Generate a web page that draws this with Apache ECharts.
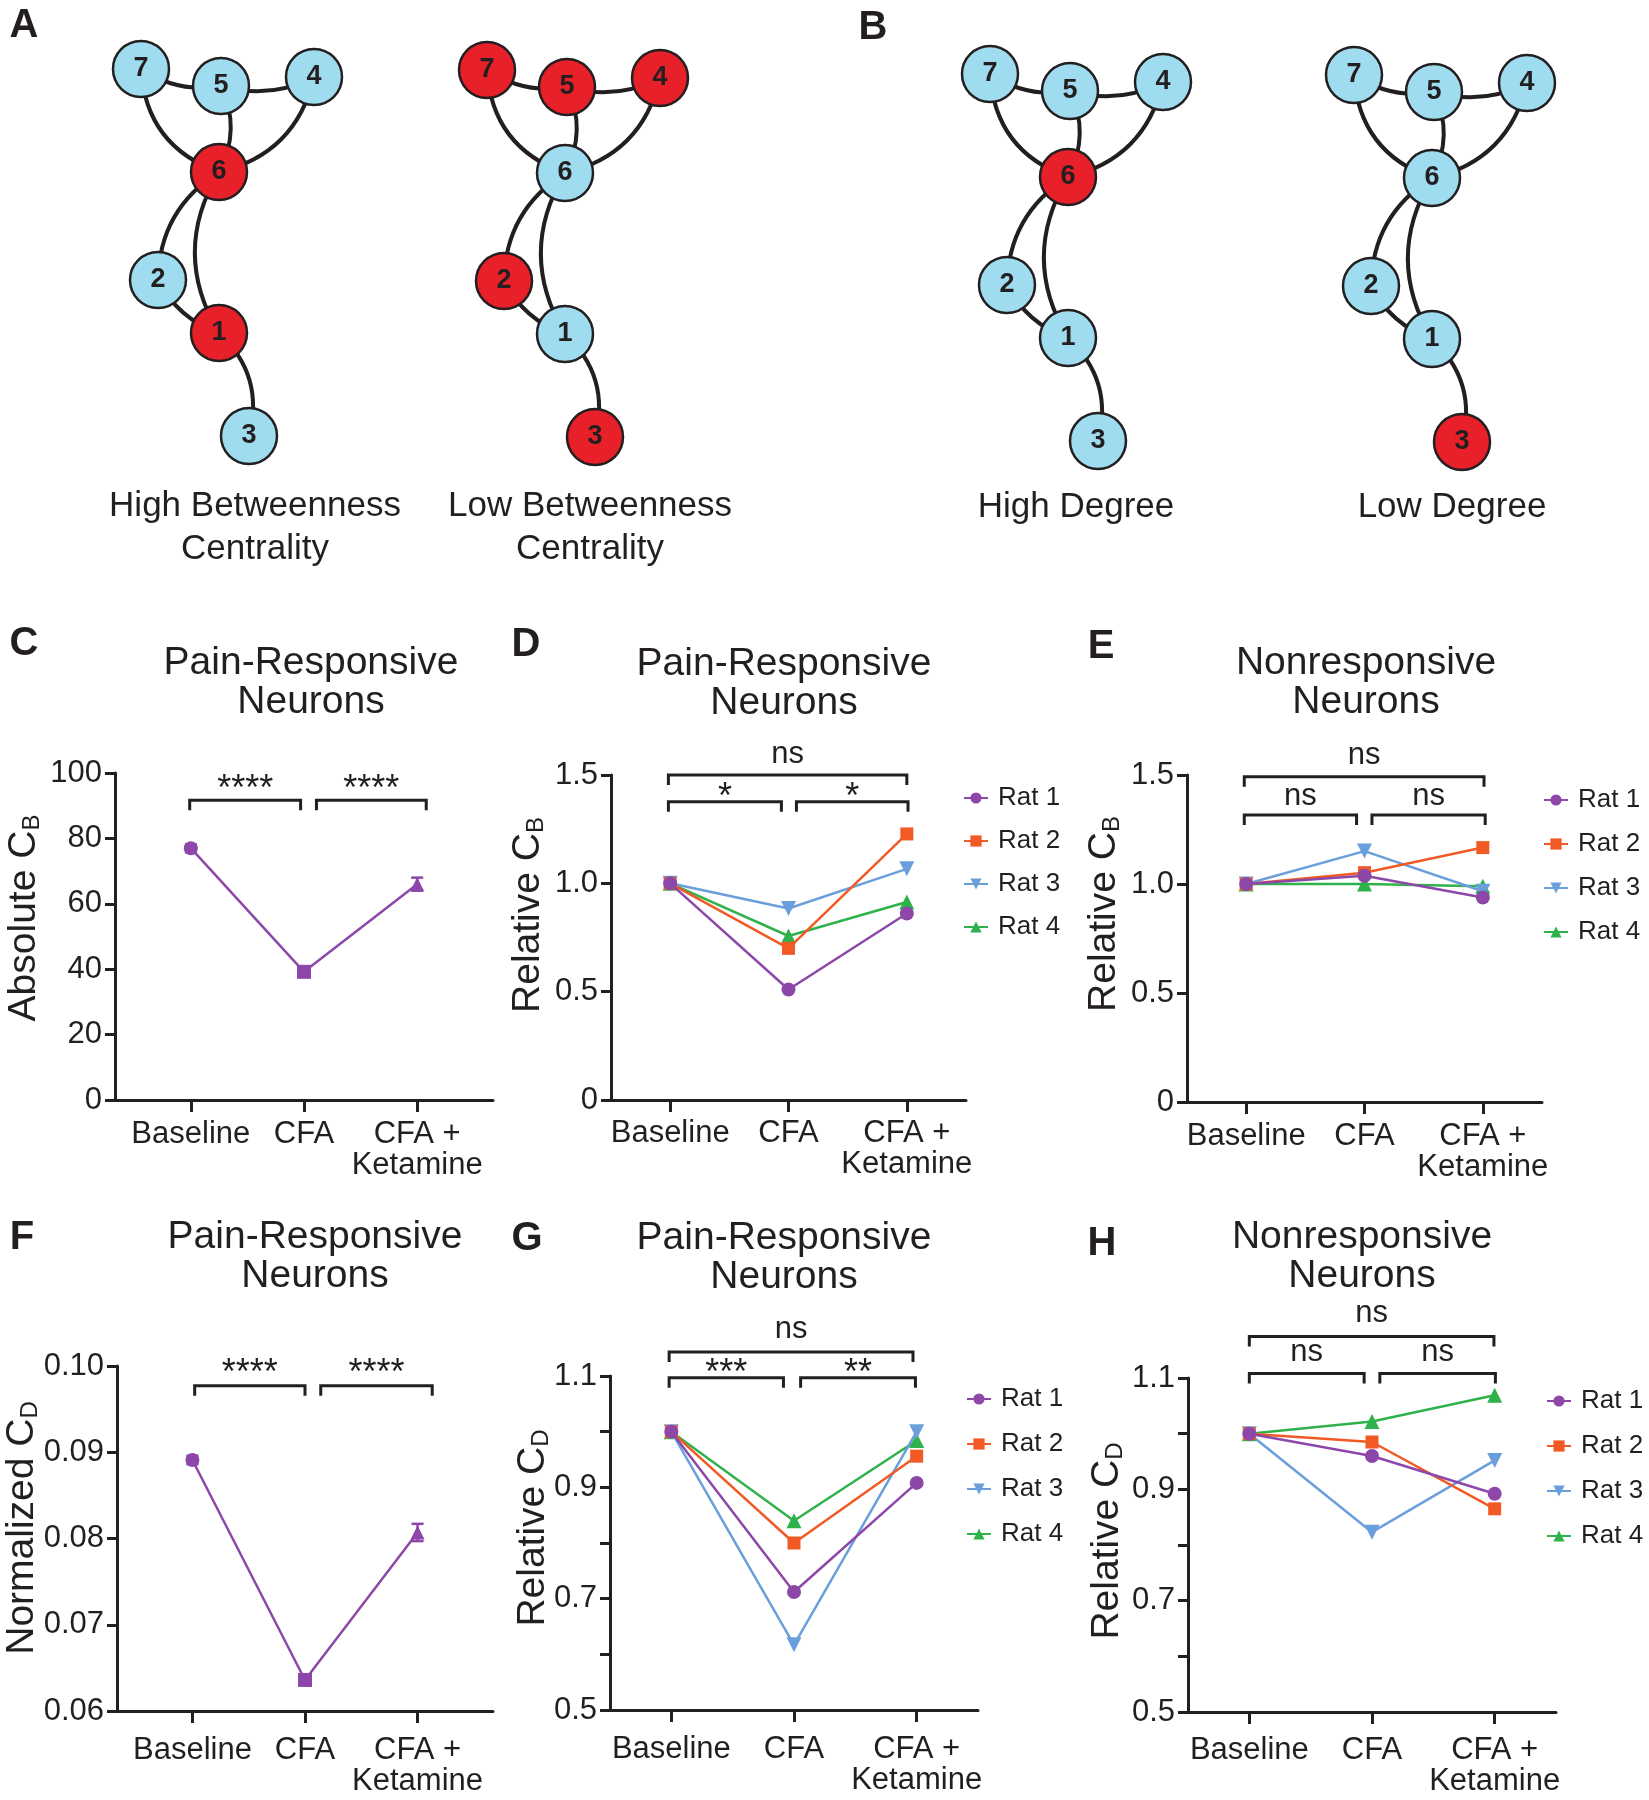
<!DOCTYPE html>
<html>
<head>
<meta charset="utf-8">
<title>Betweenness and degree centrality</title>
<script src="https://cdn.jsdelivr.net/npm/echarts@6.0.0/dist/echarts.min.js"></script>
<style>
  html, body { margin: 0; padding: 0; background: #ffffff; }
  #fig { width: 1649px; height: 1800px; }
</style>
</head>
<body>
<div id="fig"></div>
<script>
// ---- data ----
var stages = ['Baseline', 'CFA', 'CFA +\nKetamine'];
var rats = ['Rat 1', 'Rat 2', 'Rat 3', 'Rat 4'];

// C: absolute betweenness centrality, pain-responsive (mean, error)
var absCbMean = [77.0, 39.2, 66.0];
var absCbErr = [1.2, 1.0, 2.0];
// D: relative C_B, pain-responsive (rows = Rat 1..4)
var relCbPain = [
  [1.0, 0.51, 0.861],
  [1.0, 0.70, 1.228],
  [1.0, 0.884, 1.067],
  [1.0, 0.757, 0.914]
];
// E: relative C_B, nonresponsive
var relCbNon = [
  [1.0, 1.038, 0.938],
  [1.0, 1.052, 1.167],
  [1.0, 1.151, 0.967],
  [1.0, 1.0, 0.99]
];
// F: normalized degree centrality, pain-responsive (mean, error)
var normCdMean = [0.0891, 0.0636, 0.0807];
var normCdErr = [0.0005, 0.0003, 0.0010];
// G: relative C_D, pain-responsive
var relCdPain = [
  [1.0, 0.712, 0.908],
  [1.0, 0.80, 0.956],
  [1.0, 0.617, 1.0],
  [1.0, 0.84, 0.984]
];
// H: relative C_D, nonresponsive
var relCdNon = [
  [1.0, 0.96, 0.892],
  [1.0, 0.985, 0.865],
  [1.0, 0.823, 0.952],
  [1.0, 1.022, 1.069]
];

// significance brackets: [from x, to x, level]
var bracketsC = [[-0.01, 0.97, 91.7], [1.11, 2.08, 91.7]];
var bracketLabelsC = ['****', '****'];
var bracketsD = [[-0.015, 2.0, 1.5], [-0.015, 0.94, 1.376], [1.067, 2.01, 1.376]];
var bracketLabelsD = ['ns', '*', '*'];
var bracketsE = [[-0.016, 2.01, 1.492], [-0.016, 0.933, 1.316], [1.063, 2.02, 1.316]];
var bracketLabelsE = ['ns', 'ns', 'ns'];
var bracketsF = [[0.02, 1.0, 0.0977], [1.14, 2.13, 0.0977]];
var bracketLabelsF = ['****', '****'];
var bracketsG = [[-0.018, 1.97, 1.143], [-0.018, 0.914, 1.097], [1.054, 1.99, 1.097]];
var bracketLabelsG = ['ns', '***', '**'];
var bracketsH = [[0, 1.994, 1.1745], [0, 0.936, 1.108], [1.064, 2.006, 1.108]];
var bracketLabelsH = ['ns', 'ns', 'ns'];

// example network (node layout from the figure)
var nodeIds = ['1', '2', '3', '4', '5', '6', '7'];
var nodeX = [78, 17, 108, 173, 80, 78, 0];
var nodeY = [264, 211, 367, 8, 17, 103, 0];
var edgeFrom = ['7', '5', '7', '5', '4', '6', '6', '2', '1'];
var edgeTo = ['5', '4', '6', '6', '6', '2', '1', '1', '3'];
var redHighBetween = ['6', '1'];
var redLowBetween = ['7', '5', '4', '2', '3'];
var redHighDegree = ['6'];
var redLowDegree = ['3'];

// ---- styles ----
var FONT = '"Liberation Sans", Arial, Helvetica, sans-serif';
var INK = '#231f20';
var PURPLE = '#8d47a9';
var NODE_BLUE = '#a0dcef';
var NODE_RED = '#e8202a';
var ratColors = ['#8d47a9', '#f15a24', '#6b9fdc', '#2fb24b'];
var ratSymbols = ['circle', 'rect', 'triangle', 'triangle'];
var ratRotate = [0, 0, 180, 0];
var ratSizes = [14, 13, 15, 15];
var edgeCurve = [-0.2, -0.2, -0.33, 0.25, 0.31, -0.27, -0.3, -0.2, 0.3];

var grids = [
  { left: 115, top: 773, width: 378, height: 327 },   // C
  { left: 611, top: 775, width: 355, height: 325 },   // D
  { left: 1187, top: 775, width: 355, height: 327 },  // E
  { left: 117, top: 1366, width: 376, height: 345 },  // F
  { left: 610, top: 1376, width: 368, height: 334 },  // G
  { left: 1188, top: 1378, width: 368, height: 334 }  // H
];

function stageAxis(gi, min, max, margin) {
  return {
    type: 'value', gridIndex: gi, min: min, max: max,
    axisLine: { show: true, onZero: false, lineStyle: { color: INK, width: 3 } },
    axisTick: { show: true, length: 12, customValues: [0, 1, 2], lineStyle: { color: INK, width: 3 } },
    axisLabel: {
      show: true, customValues: [0, 1, 2], margin: margin,
      fontSize: 31, lineHeight: 31, color: INK, fontFamily: FONT,
      formatter: function (v) { return stages[Math.round(v)]; }
    },
    splitLine: { show: false }
  };
}

function levelAxis(gi, min, max, interval, fmt) {
  return {
    type: 'value', gridIndex: gi, min: min, max: max, interval: interval,
    axisLine: { show: true, onZero: false, lineStyle: { color: INK, width: 3 } },
    axisTick: { show: true, length: 10, lineStyle: { color: INK, width: 3 } },
    axisLabel: { margin: 13, fontSize: 31, color: INK, fontFamily: FONT, formatter: fmt },
    splitLine: { show: false }
  };
}

function oneDecimal(v) { return v === 0 ? '0' : v.toFixed(1); }
function oddTenths(v) {
  var k = Math.round(v * 10);
  return k % 2 === 1 ? (k / 10).toFixed(1) : '';
}

function ratLines(values, ax) {
  return values.map(function (row, r) {
    return {
      type: 'line', name: rats[r], xAxisIndex: ax, yAxisIndex: ax,
      data: row.map(function (v, i) { return [i, v]; }),
      symbol: ratSymbols[r], symbolRotate: ratRotate[r], symbolSize: ratSizes[r],
      itemStyle: { color: ratColors[r] },
      lineStyle: { color: ratColors[r], width: 2.5 },
      z: 6 - r, silent: true
    };
  });
}

function meanLine(means, ax) {
  var shapes = ['circle', 'rect', 'triangle'];
  return {
    type: 'line', name: 'mean', xAxisIndex: ax, yAxisIndex: ax, silent: true,
    data: means.map(function (v, i) { return { value: [i, v], symbol: shapes[i] }; }),
    symbolSize: 14,
    itemStyle: { color: PURPLE },
    lineStyle: { color: PURPLE, width: 2.5 },
    z: 4
  };
}

function errorBars(means, errs, ax) {
  return {
    type: 'custom', xAxisIndex: ax, yAxisIndex: ax, silent: true, clip: false, z: 5,
    data: means.map(function (m, i) { return [i, m - errs[i], m + errs[i]]; }),
    encode: { x: 0, y: [1, 2] },
    renderItem: function (params, api) {
      var x = api.value(0);
      var lo = api.coord([x, api.value(1)]);
      var hi = api.coord([x, api.value(2)]);
      var cap = 6, st = { stroke: PURPLE, lineWidth: 2.5 };
      return {
        type: 'group', children: [
          { type: 'line', shape: { x1: lo[0], y1: lo[1], x2: hi[0], y2: hi[1] }, style: st },
          { type: 'line', shape: { x1: hi[0] - cap, y1: hi[1], x2: hi[0] + cap, y2: hi[1] }, style: st },
          { type: 'line', shape: { x1: lo[0] - cap, y1: lo[1], x2: lo[0] + cap, y2: lo[1] }, style: st }
        ]
      };
    }
  };
}

function bracketSeries(rows, labels, lifts, ax) {
  return {
    type: 'custom', xAxisIndex: ax, yAxisIndex: ax, silent: true, clip: false, z: 10,
    data: rows,
    encode: { x: [0, 1], y: 2 },
    renderItem: function (params, api) {
      var a = api.coord([api.value(0), api.value(2)]);
      var b = api.coord([api.value(1), api.value(2)]);
      var lab = labels[params.dataIndex];
      var drop = 10;
      return {
        type: 'group', children: [
          {
            type: 'polyline',
            shape: { points: [[a[0], a[1] + drop], [a[0], a[1]], [b[0], b[1]], [b[0], b[1] + drop]] },
            style: { stroke: INK, lineWidth: 3, fill: null, lineJoin: 'miter' }
          },
          {
            type: 'text',
            style: {
              text: lab, x: (a[0] + b[0]) / 2, y: a[1] - lifts[params.dataIndex],
              align: 'center', verticalAlign: 'middle',
              fontSize: lab === 'ns' ? 31 : 36, fontFamily: FONT, fill: INK
            }
          }
        ]
      };
    }
  };
}

function network(left, top, redList) {
  return {
    type: 'graph', layout: 'none', left: left, top: top, width: 173, height: 367,
    roam: false, silent: true, symbol: 'circle', symbolSize: 56,
    label: { show: true, position: 'inside', fontSize: 27, fontWeight: 'bold', color: INK, fontFamily: FONT },
    itemStyle: { borderColor: INK, borderWidth: 2.5 },
    lineStyle: { color: INK, width: 4, opacity: 1 },
    data: nodeIds.map(function (id, i) {
      return {
        name: id, x: nodeX[i], y: nodeY[i],
        itemStyle: { color: redList.indexOf(id) >= 0 ? NODE_RED : NODE_BLUE }
      };
    }),
    links: edgeFrom.map(function (s, i) {
      return { source: s, target: edgeTo[i], lineStyle: { curveness: edgeCurve[i] } };
    })
  };
}

function ratLegend(left, top, gap) {
  return {
    data: rats, left: left, top: top, orient: 'vertical', padding: 0,
    itemWidth: 24, itemHeight: 14, itemGap: gap, selectedMode: false,
    textStyle: { fontSize: 26, lineHeight: 30, color: INK, fontFamily: FONT, padding: [0, 0, 0, 5] }
  };
}

function label(text, x, y, size, bold, lh) {
  return {
    type: 'text', x: x, y: y, silent: true,
    style: {
      text: text, align: 'center', verticalAlign: 'middle',
      fontSize: size, fontWeight: bold ? 'bold' : 'normal', fontFamily: FONT,
      lineHeight: lh || size, fill: INK
    }
  };
}

function axisTitle(main, sub, x, y) {
  return {
    type: 'text', x: x, y: y, rotation: Math.PI / 2, silent: true,
    style: {
      text: '{m|' + main + '}{s|' + sub + '}',
      align: 'center', verticalAlign: 'middle', fontFamily: FONT, fill: INK,
      rich: {
        m: { fontSize: 39, lineHeight: 40, fontFamily: FONT, fill: INK },
        s: { fontSize: 24, lineHeight: 20, verticalAlign: 'bottom', fontFamily: FONT, fill: INK }
      }
    }
  };
}

var chart = echarts.init(document.getElementById('fig'));

var option = {
  animation: false,
  backgroundColor: '#ffffff',
  textStyle: { fontFamily: FONT },
  grid: grids.map(function (g) {
    return { left: g.left, top: g.top, width: g.width, height: g.height, containLabel: false, outerBoundsMode: 'none' };
  }),
  xAxis: [
    stageAxis(0, -0.67, 2.67, 19),
    stageAxis(1, -0.5, 2.5, 18),
    stageAxis(2, -0.5, 2.5, 19),
    stageAxis(3, -0.67, 2.67, 24),
    stageAxis(4, -0.5, 2.5, 24),
    stageAxis(5, -0.5, 2.5, 23)
  ],
  yAxis: [
    levelAxis(0, 0, 100, 20, function (v) { return String(v); }),
    levelAxis(1, 0, 1.5, 0.5, oneDecimal),
    levelAxis(2, 0, 1.5, 0.5, oneDecimal),
    levelAxis(3, 0.06, 0.10, 0.01, function (v) { return v.toFixed(2); }),
    levelAxis(4, 0.5, 1.1, 0.1, oddTenths),
    levelAxis(5, 0.5, 1.1, 0.1, oddTenths)
  ],
  legend: [
    ratLegend(963, 783, 13),
    ratLegend(1543, 785, 14),
    ratLegend(966, 1384, 15),
    ratLegend(1546, 1386, 15)
  ],
  series: [].concat(
    [network(141, 69, redHighBetween), network(487, 70, redLowBetween),
     network(990, 74, redHighDegree), network(1354, 75, redLowDegree)],
    [meanLine(absCbMean, 0), errorBars(absCbMean, absCbErr, 0), bracketSeries(bracketsC, bracketLabelsC, [10, 10], 0)],
    ratLines(relCbPain, 1), [bracketSeries(bracketsD, bracketLabelsD, [21, 4, 4], 1)],
    ratLines(relCbNon, 2), [bracketSeries(bracketsE, bracketLabelsE, [21, 19, 19], 2)],
    [meanLine(normCdMean, 3), errorBars(normCdMean, normCdErr, 3), bracketSeries(bracketsF, bracketLabelsF, [12, 12], 3)],
    ratLines(relCdPain, 4), [bracketSeries(bracketsG, bracketLabelsG, [23, 4, 4], 4)],
    ratLines(relCdNon, 5), [bracketSeries(bracketsH, bracketLabelsH, [23, 21, 21], 5)]
  ),
  graphic: {
    elements: [
      label('A', 24, 26, 40, true),
      label('B', 873, 28, 40, true),
      label('C', 24, 644, 40, true),
      label('D', 526, 645, 40, true),
      label('E', 1101, 647, 40, true),
      label('F', 22, 1238, 40, true),
      label('G', 527, 1239, 40, true),
      label('H', 1102, 1244, 40, true),

      label('High Betweenness\nCentrality', 255, 528, 35, false, 43),
      label('Low Betweenness\nCentrality', 590, 528, 35, false, 43),
      label('High Degree', 1076, 507, 35, false),
      label('Low Degree', 1452, 507, 35, false),

      label('Pain-Responsive\nNeurons', 311, 683, 39, false, 39),
      label('Pain-Responsive\nNeurons', 784, 684, 39, false, 39),
      label('Nonresponsive\nNeurons', 1366, 683, 39, false, 39),
      label('Pain-Responsive\nNeurons', 315, 1257, 39, false, 39),
      label('Pain-Responsive\nNeurons', 784, 1258, 39, false, 39),
      label('Nonresponsive\nNeurons', 1362, 1257, 39, false, 39),

      axisTitle('Absolute C', 'B', 24, 918),
      axisTitle('Relative C', 'B', 528, 915),
      axisTitle('Relative C', 'B', 1104, 914),
      axisTitle('Normalized C', 'D', 22, 1528),
      axisTitle('Relative C', 'D', 533, 1528),
      axisTitle('Relative C', 'D', 1107, 1541)
    ]
  }
};

chart.setOption(option);
</script>
</body>
</html>
